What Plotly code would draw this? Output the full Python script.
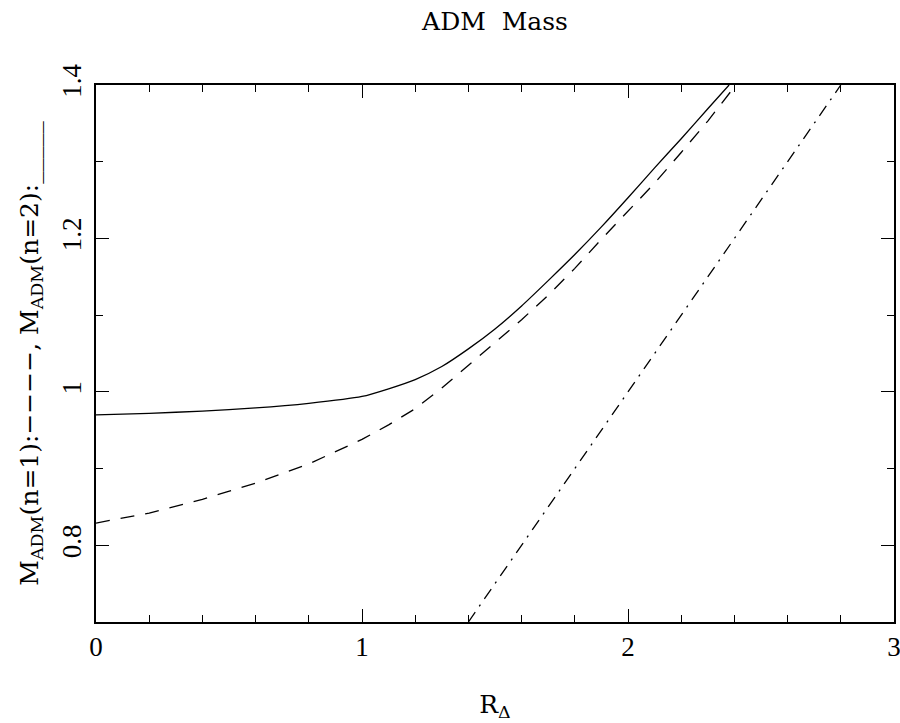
import plotly.graph_objects as go

# Data
r_n2 = [0, 0.2, 0.4, 0.6, 0.8, 1.0, 1.1, 1.2, 1.3, 1.4, 1.5, 1.6, 1.7, 1.8, 1.9, 2.0, 2.1, 2.2, 2.3, 2.38]
m_n2 = [0.970, 0.972, 0.975, 0.979, 0.985, 0.994, 1.004, 1.016, 1.033, 1.056, 1.082, 1.112, 1.145, 1.179, 1.215, 1.253, 1.292, 1.330, 1.369, 1.400]

r_n1 = [0, 0.2, 0.4, 0.6, 0.8, 1.0, 1.1, 1.2, 1.3, 1.4, 1.5, 1.6, 1.7, 1.8, 1.9, 2.0, 2.1, 2.2, 2.3, 2.41]
m_n1 = [0.829, 0.842, 0.860, 0.881, 0.906, 0.938, 0.957, 0.978, 1.005, 1.035, 1.064, 1.094, 1.126, 1.161, 1.199, 1.236, 1.272, 1.312, 1.353, 1.402]

r_ref = [1.4, 2.8]
m_ref = [0.7, 1.4]

TICKFONT = "Liberation Serif"
TFONT = "DejaVu Serif"

fig = go.Figure()
fig.add_trace(go.Scatter(x=r_n2, y=m_n2, mode="lines", line_shape="spline",
                         line=dict(color="black", width=1.3, smoothing=0.6)))
fig.add_trace(go.Scatter(x=r_n1, y=m_n1, mode="lines",
                         line=dict(color="black", width=1.3, dash="14px,11px")))
fig.add_trace(go.Scatter(x=r_ref, y=m_ref, mode="lines",
                         line=dict(color="black", width=1.3, dash="12px,7px,2px,7px")))

fig.update_layout(
    width=900, height=723, autosize=False,
    margin=dict(l=96, r=6, t=85, b=101),
    paper_bgcolor="white", plot_bgcolor="white",
    showlegend=False,
    font=dict(family=TFONT, size=25, color="black"),
    title=dict(text="ADM\u00a0 Mass", x=0.5, xref="paper", xanchor="center",
               y=0.97, yanchor="middle", font=dict(family=TFONT, size=25)),
)

fig.update_xaxes(
    range=[0, 3], showgrid=False, zeroline=False, automargin=False,
    ticklabeloverflow="allow",
    showline=True, linecolor="black", linewidth=1.5, mirror="ticks",
    ticks="inside", ticklen=13, tickwidth=1.2, tickcolor="black",
    dtick=1, tick0=0,
    minor=dict(ticks="inside", ticklen=7, tickwidth=1.2, tickcolor="black", dtick=0.2),
    tickfont=dict(family=TICKFONT, size=27),
    title=dict(text="R<sub>Δ</sub>", font=dict(family=TFONT, size=25), standoff=34),
)
fig.update_yaxes(
    range=[0.7, 1.4], showgrid=False, zeroline=False, automargin=False,
    ticklabeloverflow="allow",
    showline=True, linecolor="black", linewidth=1.5, mirror="ticks",
    ticks="inside", ticklen=13, tickwidth=1.2, tickcolor="black",
    dtick=0.2, tick0=0,
    minor=dict(ticks="inside", ticklen=7, tickwidth=1.2, tickcolor="black", dtick=0.1),
    tickangle=-90, ticklabelstandoff=2,
    tickfont=dict(family=TICKFONT, size=27),
    title=dict(text="M<sub>ADM</sub>(n=1):\u2212\u2212\u2212\u2212, M<sub>ADM</sub>(n=2):_____",
               font=dict(family=TFONT, size=25), standoff=12),
)

fig.write_html(
    "out.html",
    config={"responsive": False, "displayModeBar": False},
    post_script="document.body.style.margin='0';document.body.style.overflow='hidden';",
)
